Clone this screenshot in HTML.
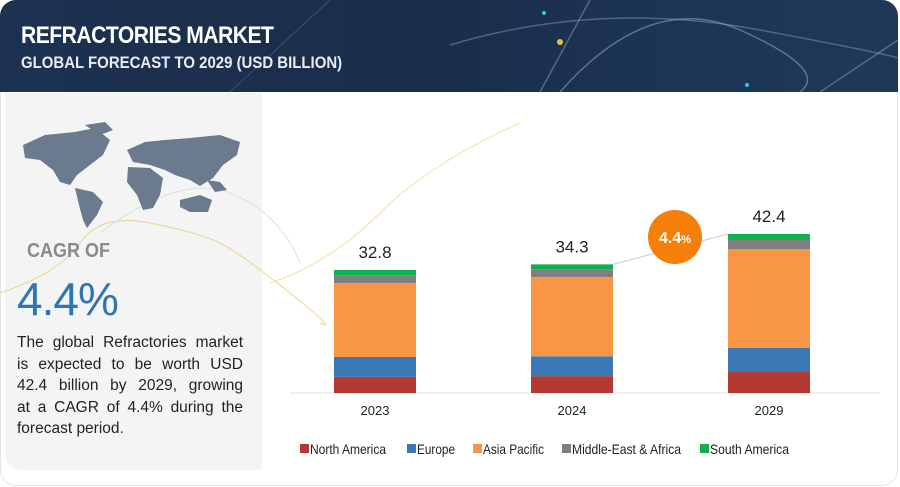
<!DOCTYPE html>
<html><head><meta charset="utf-8"><style>
body{margin:0;width:900px;height:487px;background:#fff;overflow:hidden;font-family:"Liberation Sans",sans-serif;position:relative}
.abs{position:absolute}
.ln{text-align:justify;text-align-last:justify;height:21.6px;white-space:nowrap}
</style></head><body>
<div class="abs" style="left:0;top:0;width:896px;height:484px;border:1px solid #e4e4e4;border-radius:16px"></div>
<div class="abs" style="left:0;top:0;width:898px;height:92px;border-radius:16px 16px 0 0;background:linear-gradient(90deg,#1d3150,#1a2e4b 50%,#1e3555 80%,#203858);overflow:hidden">
<svg width="898" height="92" style="position:absolute;left:0;top:0">
<path d="M450,45 Q600,0 760,30 T900,60" stroke="#6f88a8" stroke-width="1.5" fill="none" opacity=".6"/>
<path d="M560,92 Q650,-10 740,30 T800,92" stroke="#8aa0bc" stroke-width="1.5" fill="none" opacity=".6"/>
<path d="M230,92 L330,0" stroke="#6f88a8" stroke-width="1" fill="none" opacity=".4"/>
<path d="M540,92 L590,0" stroke="#8aa0bc" stroke-width="1.5" fill="none" opacity=".5"/>
<path d="M820,92 L898,40" stroke="#8aa0bc" stroke-width="1.5" fill="none" opacity=".5"/>
<circle cx="560" cy="42" r="3" fill="#e2c04a"/><circle cx="544" cy="13" r="2" fill="#3fc0f0"/><circle cx="747" cy="85" r="2" fill="#3fc0f0"/>
</svg>
<div class="abs" style="left:21px;top:22px;color:#fff;font-weight:bold;font-size:24px;letter-spacing:-0.6px;transform:scaleX(0.88);transform-origin:left">REFRACTORIES MARKET</div>
<div class="abs" style="left:21px;top:53px;color:#e8ecf2;font-weight:bold;font-size:17px;transform:scaleX(0.88);transform-origin:left">GLOBAL FORECAST TO 2029 (USD BILLION)</div>
</div>
<div class="abs" style="left:5px;top:93px;width:257px;height:377px;background:#f4f4f4;border-radius:0 0 0 16px"></div>
<svg class="abs" style="left:0;top:93px" width="900" height="300">
<path d="M0,200 Q60,180 80,150 T150,130 T220,150 T290,200 T320,230" stroke="#e8d48a" fill="none"/>
<path d="M100,140 Q180,80 230,100 T300,170" stroke="#ddd" fill="none"/>
<path d="M270,190 Q330,170 380,120 T520,30" stroke="#efe0a0" fill="none"/>
</svg>
<svg class="abs" style="left:15px;top:120px" width="235" height="115" fill="#6b7a8d">
<path d="M8,25 L30,15 L60,12 L80,8 L95,20 L88,35 L75,45 L62,55 L55,65 L45,62 L38,50 L25,40 L10,38 Z"/>
<path d="M70,5 L90,2 L98,10 L85,15 Z"/>
<path d="M60,68 L78,72 L88,82 L82,95 L72,108 L68,100 L64,85 Z"/>
<path d="M112,30 L130,22 L150,20 L175,18 L205,15 L225,22 L222,35 L208,45 L198,58 L185,66 L175,60 L160,55 L150,50 L135,45 L118,42 Z"/>
<path d="M113,47 L135,48 L148,58 L145,75 L138,88 L128,90 L122,75 L112,62 Z"/>
<path d="M165,80 L185,75 L197,80 L193,92 L175,92 L165,87 Z"/>
<path d="M192,60 L205,62 L212,70 L200,72 Z"/>
</svg>
<div class="abs" style="left:27px;top:240px;color:#8a8a8a;font-weight:bold;font-size:20px;transform:scaleX(0.9);transform-origin:left">CAGR OF</div>
<div class="abs" style="left:17px;top:272px;color:#2f74b5;font-size:46px;letter-spacing:-1px">4.4%</div>
<div class="abs" style="left:17px;top:332px;width:226px;color:#222;font-size:15.5px;line-height:21.6px">
<div class="ln">The global Refractories market</div>
<div class="ln">is expected to be worth USD</div>
<div class="ln">42.4 billion by 2029, growing</div>
<div class="ln">at a CAGR of 4.4% during the</div>
<div style="height:21.6px">forecast period<span style="color:#c00">.</span></div>
</div>
<svg id="chart" class="abs" style="left:0;top:0" width="900" height="487"></svg>
<script>
const years=["2023","2024","2029"];
const totals=[32.8,34.3,42.4];
const northAmerica=[4.3,4.5,5.6];
const europe=[5.3,5.3,6.4];
const asiaPacific=[19.7,21.1,26.4];
const middleEastAfrica=[2.1,2.1,2.4];
const southAmerica=[1.4,1.3,1.6];
const seriesNames=["North America","Europe","Asia Pacific","Middle-East & Africa","South America"];
const colors=["#b33a33","#3a78b6","#f89646","#7f7f7f","#10b04e"];
const series=[northAmerica,europe,asiaPacific,middleEastAfrica,southAmerica];
const NS="http://www.w3.org/2000/svg";
const svg=document.getElementById("chart");
const base=393, scale=3.75, barW=82;
const xPos=i=>334+i*197;
const yPos=v=>base-v*scale;
function mk(tag,attrs){const e=document.createElementNS(NS,tag);for(const k in attrs)e.setAttribute(k,attrs[k]);svg.appendChild(e);return e;}
const ax=mk("line",{x1:290,x2:880,y1:base,y2:base,stroke:"#ddd"});


const tl=mk("line",{x1:xPos(1)+barW,y1:yPos(totals[1]),x2:xPos(2),y2:yPos(totals[2]),stroke:"#ccc"});


years.forEach((yr,i)=>{
  let cum=0;
  series.forEach((s,j)=>{
    const y0=yPos(cum), y1=yPos(cum+s[i]);
    const r=mk("rect",{x:xPos(i),y:y1,width:barW,height:y0-y1,fill:colors[j]});
    
    
    cum+=s[i];
  });
  const t=mk("text",{x:xPos(i)+barW/2,y:yPos(cum)-12,"text-anchor":"middle","font-size":"17","fill":"#222"});
  t.textContent=totals[i].toFixed(1);
  
  
  const xl=mk("text",{x:xPos(i)+barW/2,y:415,"text-anchor":"middle","font-size":"13","fill":"#222"});
  xl.textContent=yr;
  
  
});
const bub=mk("circle",{cx:675,cy:237,r:27,fill:"#f57f0a"});


const bt=mk("text",{x:675,y:243,"text-anchor":"middle","font-size":"16","font-weight":"bold",fill:"#fff"});
bt.innerHTML='4.4<tspan font-size="11">%</tspan>';


const legX=[300,407,473,562,700];
const legW=[76,38,61,109,79];
seriesNames.forEach((n,j)=>{
  const s=mk("rect",{x:legX[j],y:444,width:9,height:9,fill:colors[j]});
  
  
  const t=mk("text",{x:legX[j]+10,y:454,"font-size":"14",fill:"#222",textLength:legW[j],lengthAdjust:"spacingAndGlyphs"});
  t.textContent=n;
  
  
});
</script>
</body></html>
